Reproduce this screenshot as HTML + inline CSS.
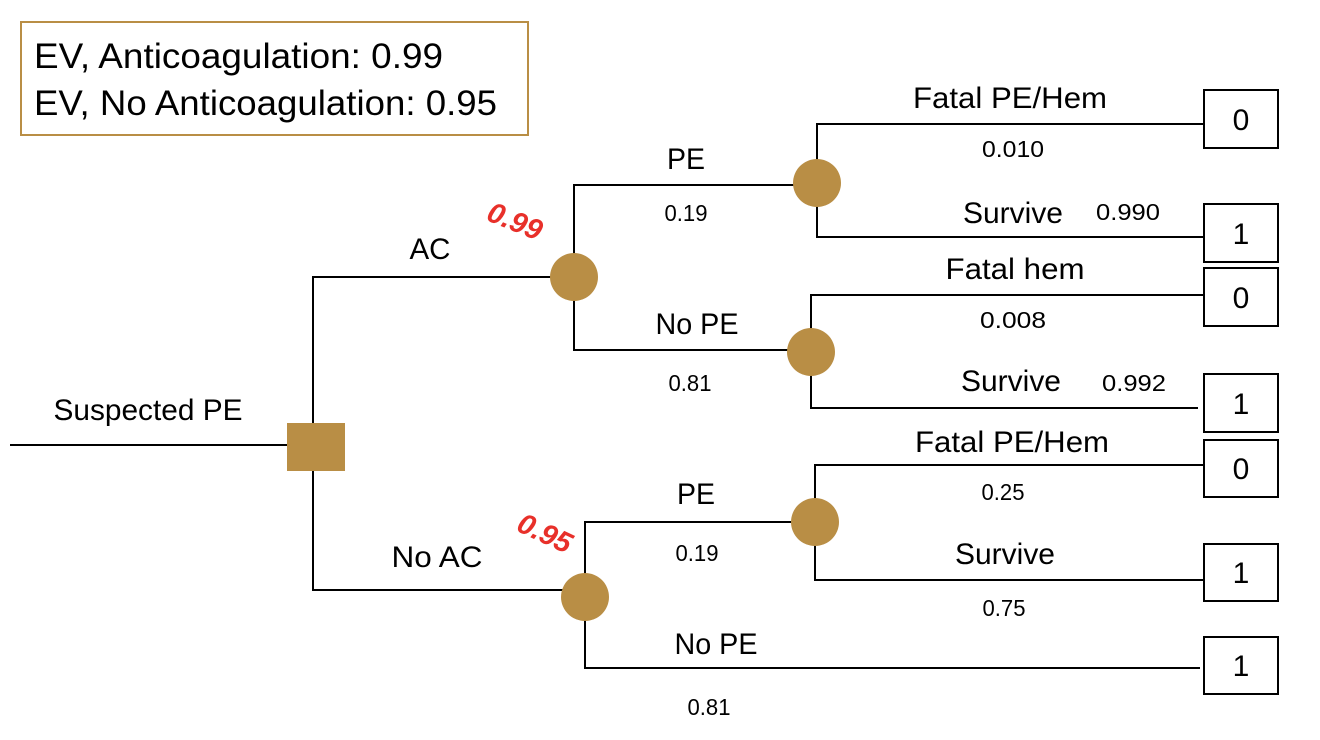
<!DOCTYPE html>
<html><head><meta charset="utf-8"><style>
html,body{margin:0;padding:0;background:#fff;}
svg{display:block;}
text{font-family:"Liberation Sans",sans-serif;fill:#000;}
</style></head><body>
<svg width="1320" height="740" viewBox="0 0 1320 740" xmlns="http://www.w3.org/2000/svg">
<rect x="21" y="22" width="507" height="113" fill="none" stroke="#b98e45" stroke-width="2"/>
<text x="34" y="68" font-size="35" textLength="409" lengthAdjust="spacingAndGlyphs">EV, Anticoagulation: 0.99</text>
<text x="34" y="115" font-size="35" textLength="463" lengthAdjust="spacingAndGlyphs">EV, No Anticoagulation: 0.95</text>
<g stroke="#000" stroke-width="2" fill="none">
<line x1="10" y1="445" x2="287" y2="445"/>
<polyline points="553,277 313,277 313,590 565,590"/>
<polyline points="795,185 574,185 574,350 795,350"/>
<polyline points="1203,124 817,124 817,237 1203,237"/>
<polyline points="1203,295 811,295 811,408 1198,408"/>
<polyline points="795,522 585,522 585,668 1200,668"/>
<polyline points="1203,465 815,465 815,580 1203,580"/>
<rect x="1204" y="90" width="74" height="58"/>
<rect x="1204" y="204" width="74" height="58"/>
<rect x="1204" y="268" width="74" height="58"/>
<rect x="1204" y="374" width="74" height="58"/>
<rect x="1204" y="440" width="74" height="57"/>
<rect x="1204" y="544" width="74" height="57"/>
<rect x="1204" y="637" width="74" height="57"/>
</g>
<rect x="287" y="423" width="58" height="48" fill="#b98e45"/>
<g fill="#b98e45">
<circle cx="574" cy="277" r="24"/>
<circle cx="585" cy="597" r="24"/>
<circle cx="817" cy="183" r="24"/>
<circle cx="811" cy="352" r="24"/>
<circle cx="815" cy="522" r="24"/>
</g>
<g font-size="30" text-anchor="middle">
<text x="148" y="420" textLength="189" lengthAdjust="spacingAndGlyphs">Suspected PE</text>
<text x="430" y="259" textLength="41" lengthAdjust="spacingAndGlyphs">AC</text>
<text x="437" y="567" textLength="91" lengthAdjust="spacingAndGlyphs">No AC</text>
<text x="686" y="169" textLength="38" lengthAdjust="spacingAndGlyphs">PE</text>
<text x="697" y="334" textLength="83" lengthAdjust="spacingAndGlyphs">No PE</text>
<text x="696" y="504" textLength="38" lengthAdjust="spacingAndGlyphs">PE</text>
<text x="716" y="654" textLength="83" lengthAdjust="spacingAndGlyphs">No PE</text>
<text x="1010" y="108" textLength="194" lengthAdjust="spacingAndGlyphs">Fatal PE/Hem</text>
<text x="1013" y="223" textLength="100" lengthAdjust="spacingAndGlyphs">Survive</text>
<text x="1015" y="279" textLength="139" lengthAdjust="spacingAndGlyphs">Fatal hem</text>
<text x="1011" y="391" textLength="100" lengthAdjust="spacingAndGlyphs">Survive</text>
<text x="1012" y="452" textLength="194" lengthAdjust="spacingAndGlyphs">Fatal PE/Hem</text>
<text x="1005" y="564" textLength="100" lengthAdjust="spacingAndGlyphs">Survive</text>
<text x="1241" y="130">0</text>
<text x="1241" y="244">1</text>
<text x="1241" y="308">0</text>
<text x="1241" y="414">1</text>
<text x="1241" y="479">0</text>
<text x="1241" y="583">1</text>
<text x="1241" y="676">1</text>
</g>
<g font-size="23" text-anchor="middle">
<text x="686" y="221" textLength="43" lengthAdjust="spacingAndGlyphs">0.19</text>
<text x="690" y="391" textLength="43" lengthAdjust="spacingAndGlyphs">0.81</text>
<text x="697" y="561" textLength="43" lengthAdjust="spacingAndGlyphs">0.19</text>
<text x="709" y="715" textLength="43" lengthAdjust="spacingAndGlyphs">0.81</text>
<text x="1013" y="157" textLength="62" lengthAdjust="spacingAndGlyphs">0.010</text>
<text x="1128" y="220" textLength="64" lengthAdjust="spacingAndGlyphs">0.990</text>
<text x="1013" y="328" textLength="66" lengthAdjust="spacingAndGlyphs">0.008</text>
<text x="1134" y="391" textLength="64" lengthAdjust="spacingAndGlyphs">0.992</text>
<text x="1003" y="500" textLength="43" lengthAdjust="spacingAndGlyphs">0.25</text>
<text x="1004" y="616" textLength="43" lengthAdjust="spacingAndGlyphs">0.75</text>
</g>
<g font-size="29" font-weight="bold" font-style="italic" text-anchor="middle">
<text x="515" y="231" transform="rotate(22 515 221)" style="fill:#e8302a">0.99</text>
<text x="545" y="543" transform="rotate(25 545 533)" style="fill:#e8302a">0.95</text>
</g>
</svg>
</body></html>
